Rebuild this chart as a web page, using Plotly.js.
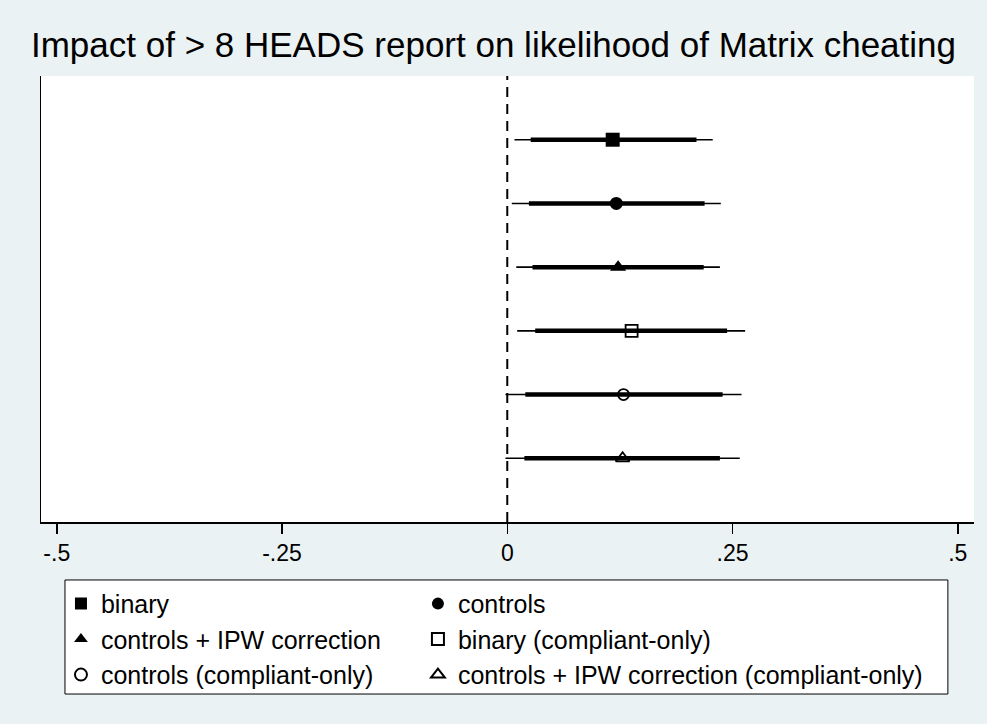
<!DOCTYPE html>
<html>
<head>
<meta charset="utf-8">
<script src="https://cdn.plot.ly/plotly-3.0.1.min.js"></script>
<style>html,body{margin:0;padding:0;background:#EAF2F3;}#chart{width:987px;height:724px;}</style>
</head>
<body>
<div id="chart"></div>
<script>
// ---- data ----
const seriesLabels = ["binary", "controls", "controls + IPW correction",
  "binary (compliant-only)", "controls (compliant-only)",
  "controls + IPW correction (compliant-only)"];
const rowPos = [1, 2, 3, 4, 5, 6];
const estimate = [0.117, 0.121, 0.123, 0.138, 0.129, 0.128];
const ci95Low  = [0.008, 0.005, 0.010, 0.011, -0.002, -0.002];
const ci95High = [0.228, 0.237, 0.236, 0.264, 0.260, 0.258];
const ci90Low  = [0.026, 0.024, 0.028, 0.031, 0.020, 0.019];
const ci90High = [0.210, 0.219, 0.218, 0.244, 0.239, 0.236];
const tickVals = [-0.5, -0.25, 0, 0.25, 0.5];
const tickText = ["-.5", "-.25", "0", ".25", ".5"];
// legend column of each series (two-column legend, filled row-wise)
const legendCol = ["legend", "legend2", "legend", "legend2", "legend", "legend2"];

// ---- styles ----
const symbols = ["square", "circle", "triangle-up", "square-open", "circle-open", "triangle-up-open"];
const sizes = [14, 13, 14, 12, 11, 12];
const FONT = "Liberation Sans, Arial, Helvetica, sans-serif";

const traces = [];
seriesLabels.forEach((lab, i) => {
  traces.push({
    type: "scatter", mode: "lines", x: [ci95Low[i], ci95High[i]], y: [rowPos[i], rowPos[i]],
    line: {color: "#000", width: 1.6}, showlegend: false, hoverinfo: "skip"
  });
  traces.push({
    type: "scatter", mode: "lines", x: [ci90Low[i], ci90High[i]], y: [rowPos[i], rowPos[i]],
    line: {color: "#000", width: 4.5}, showlegend: false, hoverinfo: "skip"
  });
});
seriesLabels.forEach((lab, i) => {
  traces.push({
    type: "scatter", mode: "markers", name: lab, x: [estimate[i]], y: [rowPos[i]],
    legend: legendCol[i],
    marker: {symbol: symbols[i], size: sizes[i], color: "#000",
             line: {color: "#000", width: symbols[i].endsWith("open") ? 1.8 : 0}},
    showlegend: true
  });
});

const legendBase = {
  orientation: "v", y: -0.132, yanchor: "top", xanchor: "left",
  bgcolor: "rgba(0,0,0,0)", borderwidth: 0, itemsizing: "constant",
  font: {family: FONT, size: 25, color: "#000"}, traceorder: "normal"
};

const layout = {
  width: 987, height: 724,
  paper_bgcolor: "#EAF2F3", plot_bgcolor: "#FFFFFF",
  margin: {l: 41, r: 13, t: 76, b: 202},
  font: {family: FONT, color: "#000", size: 20},
  title: {text: "Impact of > 8 HEADS report on likelihood of Matrix cheating",
          font: {family: FONT, size: 35, color: "#000"}, x: 0.5, xanchor: "center", y: 0.938, yanchor: "middle"},
  xaxis: {range: [-0.5175, 0.518], tickvals: tickVals, ticktext: tickText,
          showgrid: false, zeroline: false, showline: true, linecolor: "#000", linewidth: 1.5,
          ticks: "outside", ticklen: 10, tickwidth: 1.5, tickcolor: "#000",
          tickfont: {family: FONT, size: 23, color: "#000"}, fixedrange: true},
  yaxis: {range: [7, 0], showgrid: false, zeroline: false, showline: true, linecolor: "#000",
          linewidth: 1.5, ticks: "", showticklabels: false, fixedrange: true},
  shapes: [
    {type: "line", xref: "x", yref: "paper", x0: 0, x1: 0, y0: 0, y1: 1,
     line: {color: "#000", width: 2, dash: "10px,7px"}},
    {type: "rect", xref: "paper", yref: "paper", x0: 0.0257, x1: 0.972, y0: -0.130, y1: -0.3857,
     fillcolor: "#FFFFFF", line: {color: "#000", width: 1}, layer: "above"}
  ],
  showlegend: true,
  legend: Object.assign({}, legendBase, {x: 0.0214}),
  legend2: Object.assign({}, legendBase, {x: 0.404})
};

Plotly.newPlot("chart", traces, layout, {displayModeBar: false, staticPlot: true});
</script>
</body>
</html>
